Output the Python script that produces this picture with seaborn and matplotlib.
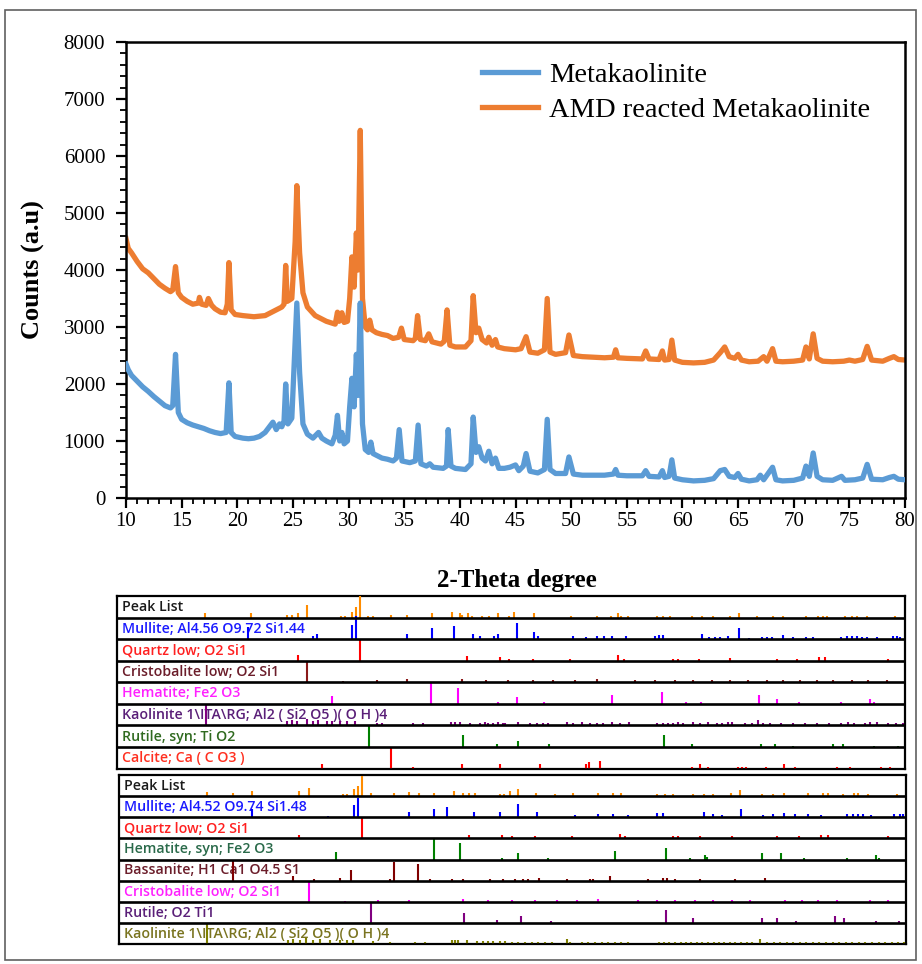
import matplotlib
matplotlib.use("Agg")
import matplotlib.pyplot as plt
from matplotlib.patches import Rectangle
from matplotlib.ticker import MultipleLocator
import numpy as np
import pandas as pd
import seaborn as sns

# ---------------- XRD patterns (2-theta, counts) ----------------
mk_theta = [10.0, 10.2, 10.5, 11.0, 11.5, 12.0, 12.5, 13.0, 13.5, 14.0, 14.2, 14.45, 14.7, 15.0, 15.5,
            16.0, 16.5, 17.0, 17.5, 18.0, 18.5, 19.0, 19.25, 19.45, 19.8, 20.5, 21.0, 21.5, 22.0, 22.5,
            23.0, 23.2, 23.5, 23.8, 24.0, 24.2, 24.35, 24.55, 24.9, 25.15, 25.35, 25.6, 25.9, 26.3, 26.8,
            27.3, 27.6, 28.0, 28.5, 28.8, 29.0, 29.2, 29.4, 29.6, 29.9, 30.1, 30.3, 30.5, 30.7, 30.85,
            31.05, 31.25, 31.5, 31.8, 32.0, 32.2, 32.5, 33.0, 33.5, 34.0, 34.3, 34.55, 34.8, 35.5, 36.0,
            36.25, 36.5, 37.0, 37.3, 37.6, 38.5, 38.8, 38.95, 39.2, 39.6, 40.5, 41.0, 41.2, 41.45, 41.7,
            42.0, 42.3, 42.6, 42.9, 43.2, 43.5, 44.0, 44.5, 45.0, 45.3, 45.7, 45.95, 46.3, 47.0, 47.6,
            47.85, 48.1, 48.6, 49.5, 49.8, 50.2, 51.0, 52.0, 53.0, 53.8, 54.0, 54.2, 55.0, 56.4, 56.7,
            57.0, 57.9, 58.2, 58.4, 58.8, 59.05, 59.3, 60.0, 61.0, 62.0, 62.8, 63.4, 63.8, 64.2, 64.7,
            65.0, 65.3, 66.0, 66.7, 67.0, 67.3, 68.1, 68.4, 69.0, 70.0, 70.8, 71.1, 71.4, 71.75, 72.1,
            72.6, 73.5, 74.3, 74.6, 75.5, 76.2, 76.6, 77.0, 78.0, 78.6, 79.0, 79.4, 80.0]
mk_counts = [2350, 2250, 2150, 2050, 1950, 1870, 1780, 1700, 1620, 1580, 1620, 2520, 1500, 1380, 1320,
             1280, 1250, 1220, 1180, 1150, 1130, 1150, 2020, 1150, 1080, 1050, 1040, 1050, 1080, 1150,
             1280, 1330, 1200, 1300, 1250, 1350, 2000, 1300, 1400, 2500, 3420, 2200, 1300, 1120, 1050,
             1150, 1050, 1000, 950, 1100, 1450, 1000, 1150, 950, 1000, 1600, 2100, 1600, 2520, 1800,
             3420, 1300, 850, 800, 980, 780, 750, 700, 680, 650, 700, 1200, 650, 620, 650,
             1280, 600, 560, 600, 540, 520, 560, 1200, 560, 520, 500, 600, 1420, 800, 900,
             700, 650, 820, 600, 700, 520, 520, 540, 580, 480, 560, 780, 470, 440, 500,
             1380, 500, 430, 430, 720, 420, 400, 400, 400, 420, 500, 400, 390, 390, 480,
             380, 370, 480, 360, 380, 670, 350, 320, 300, 310, 340, 480, 500, 380, 360,
             430, 330, 300, 320, 400, 320, 540, 320, 300, 310, 350, 560, 380, 790, 380,
             320, 310, 380, 310, 320, 350, 590, 330, 320, 360, 380, 330, 320]

amd_theta = [10.0, 10.2, 10.5, 11.0, 11.5, 12.0, 12.5, 13.0, 13.5, 14.0, 14.2, 14.45, 14.7, 15.0, 15.5,
             16.0, 16.5, 16.6, 16.8, 17.2, 17.4, 17.7, 18.0, 18.5, 18.9, 19.1, 19.25, 19.45, 19.8, 20.5,
             21.5, 22.5, 23.0, 23.5, 24.0, 24.2, 24.35, 24.5, 24.9, 25.2, 25.35, 25.6, 25.9, 26.3, 27.0,
             27.5, 28.0, 28.8, 29.0, 29.15, 29.4, 29.6, 29.9, 30.1, 30.3, 30.5, 30.7, 30.85, 31.05, 31.25,
             31.5, 31.7, 31.9, 32.1, 32.5, 33.0, 33.5, 34.0, 34.5, 34.75, 35.0, 35.8, 36.0, 36.2, 36.45,
             36.9, 37.2, 37.5, 38.3, 38.6, 38.85, 39.1, 39.6, 40.5, 41.0, 41.2, 41.45, 41.7, 42.0, 42.4,
             42.6, 42.9, 43.2, 43.4, 44.0, 45.0, 45.5, 45.95, 46.3, 47.0, 47.6, 47.85, 48.1, 48.6, 49.5,
             49.8, 50.2, 51.0, 52.0, 53.0, 53.8, 54.0, 54.2, 55.0, 56.4, 56.7, 57.0, 57.9, 58.2, 58.4,
             58.8, 59.05, 59.3, 60.0, 61.0, 62.0, 62.8, 63.4, 63.8, 64.2, 64.7, 65.0, 65.3, 66.0, 66.8,
             67.3, 67.6, 68.1, 68.4, 69.0, 70.0, 70.8, 71.1, 71.4, 71.75, 72.1, 72.6, 73.5, 74.5, 75.0,
             75.5, 76.2, 76.6, 77.0, 78.0, 78.6, 79.0, 79.4, 80.0]
amd_counts = [4550, 4380, 4300, 4150, 4020, 3950, 3850, 3750, 3680, 3620, 3650, 4060, 3600, 3520, 3450,
              3400, 3420, 3520, 3400, 3380, 3500, 3380, 3320, 3260, 3250, 3400, 4130, 3300, 3220, 3200,
              3180, 3200, 3250, 3300, 3350, 3400, 4080, 3450, 3500, 4500, 5480, 4300, 3600, 3350, 3200,
              3150, 3100, 3050, 3260, 3100, 3250, 3080, 3100, 3500, 4230, 3700, 4650, 4000, 6450, 3500,
              3000, 2950, 3120, 2950, 2900, 2870, 2850, 2800, 2820, 2980, 2780, 2760, 2800, 3200, 2780,
              2760, 2880, 2740, 2700, 2750, 3300, 2680, 2650, 2650, 2760, 3550, 2900, 2980, 2780, 2720,
              2820, 2680, 2780, 2650, 2620, 2600, 2620, 2830, 2560, 2540, 2600, 3500, 2560, 2520, 2550,
              2860, 2500, 2480, 2470, 2460, 2470, 2600, 2460, 2450, 2440, 2580, 2440, 2430, 2580, 2420,
              2430, 2770, 2420, 2380, 2370, 2380, 2420, 2550, 2650, 2480, 2450, 2520, 2420, 2390, 2400,
              2480, 2400, 2620, 2400, 2390, 2400, 2420, 2650, 2440, 2880, 2450, 2400, 2390, 2400, 2420,
              2400, 2430, 2660, 2420, 2400, 2450, 2480, 2430, 2420]

sample_names = ["Metakaolinite", "AMD reacted Metakaolinite"]
sample_colors = ["#5B9BD5", "#ED7D31"]

# ---------------- reference patterns (stick positions, relative heights) ----------------
# panel 1
p1_labels = ["Peak List", "Mullite; Al4.56 O9.72 Si1.44", "Quartz low; O2 Si1", "Cristobalite low; O2 Si1",
             "Hematite; Fe2 O3", "Kaolinite 1\\ITA\\RG; Al2 ( Si2 O5 )( O H )4", "Rutile, syn; Ti O2",
             "Calcite; Ca ( C O3 )"]
p1_text_colors = ["#1a1a1a", "#1a1aff", "#ff2020", "#6b1d2a", "#ff20ff", "#5a1f78", "#2f6a1f", "#ff3020"]
p1_stick_colors = ["#ff8c00", "#0000ff", "#ff0000", "#8b1a1a", "#ff00ff", "#800080", "#008000", "#ff0000"]

p1_peak_pos = [12.51, 16.66, 19.95, 20.40, 21.00, 21.83, 24.88, 25.27, 25.88, 26.27, 26.64, 27.37, 27.83, 29.47,
               30.90, 33.24, 35.07, 35.77, 35.93, 36.53, 36.89, 37.75, 38.42, 39.27, 40.25, 40.73, 42.56, 45.88,
               48.26, 49.53, 50.23, 50.45, 51.14, 53.74, 54.34, 54.95, 56.93, 57.90, 58.90, 60.43, 61.25, 62.87,
               64.38, 65.30, 67.37, 68.47, 68.92, 69.26, 70.93, 71.54, 72.05, 72.97, 75.50]
p1_peak_h = [19, 19, 12, 12, 23, 56, 9, 9, 28, 47, 100, 9, 9, 12,
             14, 19, 28, 19, 14, 19, 9, 9, 9, 19, 9, 28, 19, 9,
             9, 9, 19, 9, 9, 9, 9, 9, 9, 9, 9, 9, 23, 9,
             9, 9, 9, 9, 9, 9, 9, 9, 9, 9, 9]
p1_mul_pos = [16.44, 22.35, 22.74, 25.88, 26.27, 30.96, 33.24, 35.25, 36.93, 37.60, 38.90, 39.27, 40.95, 42.56,
              42.87, 46.06, 47.28, 48.26, 48.92, 49.63, 50.93, 53.58, 53.97, 54.34, 57.84, 58.54, 59.06, 59.52,
              60.27, 61.25, 62.19, 63.32, 63.78, 64.24, 65.24, 66.21, 67.37, 68.04, 70.54, 71.09, 71.54, 72.00,
              72.45, 72.97, 73.83, 75.29, 75.65, 75.95]
p1_mul_h = [56, 14, 23, 65, 107, 23, 51, 61, 23, 14, 14, 23, 75, 33,
            14, 14, 9, 14, 14, 14, 14, 14, 19, 19, 23, 9, 9, 9,
            14, 51, 5, 9, 9, 9, 19, 9, 9, 9, 9, 14, 14, 14,
            9, 9, 9, 14, 14, 9]
p1_qtz_pos = [20.95, 26.64, 36.44, 39.42, 40.25, 42.47, 45.82, 50.23, 50.75, 55.25, 55.71, 57.60, 60.43, 64.75,
              66.58, 68.58, 69.11, 74.89]
p1_qtz_h = [28, 98, 23, 19, 9, 9, 9, 28, 9, 9, 9, 9, 14, 9, 9, 19, 19, 9]
p1_cri_pos = [21.83, 25.11, 28.16, 30.90, 35.93, 38.15, 40.18, 42.41, 44.30, 46.27, 48.26, 51.75, 53.58, 55.41,
              57.08, 58.76, 60.43, 62.10, 63.78, 65.30, 66.82, 68.35, 69.86, 71.54, 73.06, 74.74]
p1_cri_h = [100, 5, 9, 14, 14, 9, 9, 9, 9, 9, 14, 9, 9, 9, 9, 9, 9, 9, 9, 9, 9, 9, 9, 9, 9, 9]
p1_hem_pos = [24.11, 33.10, 35.62, 39.27, 40.95, 43.44, 49.63, 54.25, 56.38, 57.78, 63.08, 64.69, 66.73, 70.54,
              73.21, 73.58]
p1_hem_h = [37, 98, 75, 9, 33, 9, 42, 56, 9, 9, 42, 23, 9, 9, 23, 9]
p1_kao_pos = [12.58, 19.95, 20.40, 20.86, 21.77, 22.37, 22.83, 23.60, 24.05, 24.81, 25.48, 26.18, 28.16, 28.62,
              31.51, 32.42, 34.92, 35.32, 35.77, 36.68, 37.60, 38.05, 38.36, 38.81, 39.27, 39.73, 39.88, 41.10,
              42.16, 42.78, 43.38, 43.84, 45.52, 46.12, 46.89, 47.64, 48.26, 48.86, 49.63, 50.38, 51.23, 53.74,
              54.34, 54.79, 55.25, 55.71, 56.11, 57.08, 57.69, 58.45, 59.21, 59.67, 60.27, 60.58, 61.80, 62.41,
              62.96, 63.47, 64.05, 65.10, 66.15, 67.30, 68.40, 69.50, 70.60, 71.20, 71.75, 72.80, 73.21, 73.83,
              74.90, 75.60, 76.20]
p1_kao_h = [100, 19, 23, 19, 28, 19, 23, 19, 19, 19, 19, 19, 9, 9,
            9, 9, 14, 14, 14, 9, 9, 14, 9, 9, 14, 9, 9, 14,
            9, 9, 9, 9, 14, 9, 14, 9, 9, 9, 14, 9, 14, 9,
            9, 9, 9, 14, 9, 14, 9, 14, 9, 9, 14, 14, 9, 9,
            23, 9, 9, 9, 9, 9, 9, 9, 9, 14, 9, 9, 14, 14,
            9, 9, 9]
p1_rut_pos = [27.49, 36.02, 39.12, 41.10, 43.93, 54.40, 56.93, 63.23, 64.57, 66.21, 69.86, 70.72, 73.58, 75.74]
p1_rut_h = [100, 56, 14, 28, 14, 56, 14, 14, 14, 5, 14, 14, 5, 5]
p1_cal_pos = [23.14, 29.47, 31.45, 35.93, 39.42, 43.08, 47.25, 47.58, 48.56, 56.93, 57.69, 58.39, 61.19, 61.55,
              61.89, 63.69, 65.36, 66.37, 70.23, 71.39, 74.22, 75.04]
p1_cal_h = [19, 100, 9, 19, 23, 23, 23, 28, 33, 9, 23, 9, 9, 9, 9, 9, 23, 9, 9, 9, 9, 9]

# panel 2
p2_labels = ["Peak List", "Mullite; Al4.52 O9.74 Si1.48", "Quartz low; O2 Si1", "Hematite, syn; Fe2 O3",
             "Bassanite; H1 Ca1 O4.5 S1", "Cristobalite low; O2 Si1", "Rutile; O2 Ti1",
             "Kaolinite 1\\ITA\\RG; Al2 ( Si2 O5 )( O H )4"]
p2_text_colors = ["#1a1a1a", "#1a1aff", "#ff2020", "#2a6a4a", "#6b1d2a", "#ff20ff", "#5a1f78", "#7a7420"]
p2_stick_colors = ["#ff8c00", "#0000ff", "#ff0000", "#008000", "#800000", "#ff00ff", "#800080", "#808000"]

p2_peak_pos = [12.64, 15.01, 16.80, 21.10, 21.98, 25.11, 25.42, 26.12, 26.48, 26.85, 27.62, 29.77, 31.14, 32.03,
               33.42, 35.25, 36.02, 36.62, 37.14, 39.42, 39.82, 40.34, 41.10, 42.71, 44.45, 46.06, 48.40, 49.77,
               50.47, 53.74, 54.49, 55.25, 57.02, 58.05, 58.90, 60.49, 61.34, 63.38, 64.38, 65.39, 67.58, 68.90,
               69.41, 70.78, 71.78, 72.15, 73.06, 75.71]
p2_peak_h = [19, 14, 23, 23, 37, 9, 9, 33, 47, 93, 14, 14, 19, 14,
             14, 23, 14, 14, 14, 9, 9, 23, 33, 14, 9, 14, 14, 14,
             14, 9, 9, 9, 9, 9, 9, 14, 28, 9, 9, 14, 14, 14,
             14, 9, 14, 14, 9, 9]
p2_mul_pos = [16.75, 23.69, 26.09, 26.48, 31.14, 33.42, 34.56, 37.08, 39.42, 41.10, 42.78, 46.27, 48.40, 49.77,
              51.09, 53.74, 54.34, 58.05, 58.90, 59.73, 61.40, 63.47, 64.38, 65.39, 66.37, 67.58, 68.71, 71.09,
              71.63, 72.15, 72.60, 73.30, 75.41, 75.95, 76.26]
p2_mul_h = [37, 5, 56, 93, 23, 37, 47, 23, 23, 61, 23, 9, 14, 14,
            9, 19, 19, 23, 14, 9, 37, 9, 14, 19, 14, 14, 9, 14,
            14, 14, 14, 9, 14, 14, 14]
p2_qtz_pos = [21.10, 26.79, 36.62, 39.58, 40.49, 42.62, 45.97, 50.38, 50.84, 55.20, 55.71, 57.69, 60.58, 64.75,
              66.73, 68.74, 69.41, 74.89]
p2_qtz_h = [14, 98, 14, 14, 9, 9, 9, 19, 9, 9, 9, 9, 9, 9, 9, 14, 14, 9]
p2_hem_pos = [24.45, 33.42, 35.77, 39.63, 41.10, 43.78, 49.93, 54.58, 56.78, 58.15, 58.30, 63.38, 65.09, 67.19,
              71.09, 73.74, 74.06]
p2_hem_h = [37, 100, 79, 9, 33, 9, 42, 56, 9, 19, 14, 33, 33, 9, 9, 23, 9]
p2_bas_pos = [15.01, 20.49, 22.47, 24.81, 25.79, 29.38, 29.77, 31.96, 33.03, 35.01, 36.07, 38.51, 39.73, 40.79,
              41.55, 42.01, 43.01, 45.52, 47.64, 47.95, 49.47, 52.97, 54.34, 54.65, 55.41, 57.69, 60.89, 63.63]
p2_bas_h = [100, 23, 9, 14, 51, 9, 89, 79, 9, 9, 9, 9, 9, 9,
            9, 9, 14, 9, 9, 9, 23, 9, 14, 14, 9, 9, 9, 14]
p2_cri_pos = [21.98, 25.27, 28.26, 31.14, 36.07, 38.36, 40.49, 42.62, 44.60, 46.43, 48.40, 52.05, 53.74, 55.41,
              57.23, 58.90, 60.58, 62.25, 65.45, 66.98, 68.49, 70.17, 73.21, 74.89]
p2_cri_h = [98, 5, 9, 9, 14, 9, 9, 9, 9, 9, 14, 9, 9, 9, 9, 9, 9, 9, 9, 9, 9, 9, 9, 9]
p2_rut_pos = [27.64, 36.14, 39.12, 41.32, 44.05, 54.58, 57.08, 63.38, 64.75, 66.43, 70.02, 70.87, 73.74, 75.86]
p2_rut_h = [100, 47, 14, 33, 9, 61, 23, 23, 23, 9, 33, 23, 9, 9]
p2_kao_pos = [12.64, 20.09, 20.55, 21.16, 21.71, 22.37, 22.99, 23.90, 24.81, 25.42, 26.03, 27.85, 29.38, 31.66,
              32.58, 35.01, 35.32, 35.62, 36.38, 37.30, 37.90, 38.36, 38.81, 39.42, 39.88, 40.49, 41.10, 41.71,
              42.32, 42.93, 43.54, 44.15, 45.52, 45.82, 46.89, 47.50, 48.10, 48.70, 49.30, 49.90, 50.50, 51.10,
              53.90, 54.40, 54.90, 55.40, 55.95, 56.40, 56.90, 57.45, 57.90, 58.40, 58.95, 59.40, 59.90, 60.45,
              60.90, 61.40, 61.95, 62.40, 63.17, 63.80, 64.40, 65.00, 65.60, 66.20, 66.80, 67.40, 68.00, 68.60,
              69.20, 69.80, 70.40, 71.00, 71.60, 72.20, 72.80, 73.40, 74.00, 74.60, 75.20, 75.80, 76.30]
p2_kao_h = [100, 19, 23, 19, 28, 19, 23, 19, 19, 19, 19, 14, 9, 9,
            9, 19, 19, 19, 19, 14, 14, 14, 14, 14, 14, 9, 9, 9,
            9, 9, 9, 9, 23, 9, 9, 9, 9, 9, 9, 9, 9, 9,
            9, 9, 9, 9, 9, 9, 9, 9, 9, 9, 9, 9, 9, 9,
            9, 9, 9, 9, 23, 9, 9, 9, 9, 9, 9, 9, 9, 9,
            9, 9, 9, 9, 9, 9, 9, 9, 9, 9, 9, 9, 9]

p1_rows = [(p1_peak_pos, p1_peak_h), (p1_mul_pos, p1_mul_h), (p1_qtz_pos, p1_qtz_h), (p1_cri_pos, p1_cri_h),
           (p1_hem_pos, p1_hem_h), (p1_kao_pos, p1_kao_h), (p1_rut_pos, p1_rut_h), (p1_cal_pos, p1_cal_h)]
p2_rows = [(p2_peak_pos, p2_peak_h), (p2_mul_pos, p2_mul_h), (p2_qtz_pos, p2_qtz_h), (p2_hem_pos, p2_hem_h),
           (p2_bas_pos, p2_bas_h), (p2_cri_pos, p2_cri_h), (p2_rut_pos, p2_rut_h), (p2_kao_pos, p2_kao_h)]

# ---------------- figure ----------------
W, H = 922, 964
plt.rcParams["font.family"] = ["Liberation Serif", "DejaVu Serif"]
fig = plt.figure(figsize=(W / 100, H / 100), dpi=100)


def rect(x0, y0, x1, y1):
    return [x0 / W, 1 - y1 / H, (x1 - x0) / W, (y1 - y0) / H]


# outer frame
fig.add_artist(Rectangle((5 / W, 1 - 960 / H), 911 / W, 950 / H, transform=fig.transFigure,
                         fill=False, ec="#606060", lw=1.2))

# ---------- main diffractogram ----------
ax = fig.add_axes(rect(126, 42, 905, 498))
df = pd.concat([
    pd.DataFrame({"two_theta": mk_theta, "counts": mk_counts, "sample": sample_names[0]}),
    pd.DataFrame({"two_theta": amd_theta, "counts": amd_counts, "sample": sample_names[1]}),
])
sns.lineplot(data=df, x="two_theta", y="counts", hue="sample", hue_order=sample_names,
             palette=sample_colors, estimator=None, sort=False, lw=3.8, ax=ax)
ax.lines[0].set_zorder(3)
ax.lines[1].set_zorder(2)

ax.set_xlim(10, 80)
ax.set_ylim(0, 8000)
ax.xaxis.set_major_locator(MultipleLocator(5))
ax.xaxis.set_minor_locator(MultipleLocator(1))
ax.yaxis.set_major_locator(MultipleLocator(1000))
ax.yaxis.set_minor_locator(MultipleLocator(200))
ax.tick_params(which="major", direction="out", length=7, width=1.6, labelsize=15, pad=8)
ax.tick_params(which="minor", direction="out", length=4, width=1.3)
ax.tick_params(axis="x", which="major", pad=3)
for sp in ax.spines.values():
    sp.set_linewidth(1.8)
    sp.set_color("black")
ax.set_xlabel("")
ax.set_ylabel("Counts (a.u)", fontsize=19, fontweight="bold")
ax.yaxis.set_label_coords(-0.104, 0.5)

leg = ax.legend(loc="upper left", bbox_to_anchor=((482 - 126) / 779, (498 - 62) / 456), frameon=False,
                fontsize=20.5, handlelength=1.95, handletextpad=0.42, labelspacing=0.32, borderpad=0,
                borderaxespad=0)
for line in leg.get_lines():
    line.set_linewidth(3.8)

fig.text(517 / W, 1 - 580 / H, "2-Theta degree", ha="center", va="center", fontsize=18, fontweight="bold")


# ---------- reference stick patterns ----------
def draw_panel(box, xlim, labels, text_colors, stick_colors, rows):
    pax = fig.add_axes(rect(*box))
    pax.set_xlim(*xlim)
    pax.set_ylim(8, 0)
    pax.set_xticks([])
    pax.set_yticks([])
    for sp in pax.spines.values():
        sp.set_linewidth(1.6)
        sp.set_color("black")
    for i, (label, tc, sc, (pos, hts)) in enumerate(zip(labels, text_colors, stick_colors, rows)):
        base = i + 1
        pax.text(0.006, i + 0.52, label, transform=pax.get_yaxis_transform(), ha="left", va="center",
                 fontsize=10.2, fontweight="semibold", color=tc, family=["Open Sans", "DejaVu Sans"],
                 zorder=2, clip_on=False)
        tops = [base - h / 100.0 for h in hts]
        pax.vlines(pos, base, tops, colors=sc, lw=1.5, zorder=3, clip_on=False)
        pax.axhline(base, color="black", lw=1.9, zorder=4)


draw_panel((117, 596, 905, 768.5), (4.447, 76.41), p1_labels, p1_text_colors, p1_stick_colors, p1_rows)
draw_panel((119, 775, 906, 944), (4.63, 76.50), p2_labels, p2_text_colors, p2_stick_colors, p2_rows)

fig.savefig("out.png", dpi=100)
